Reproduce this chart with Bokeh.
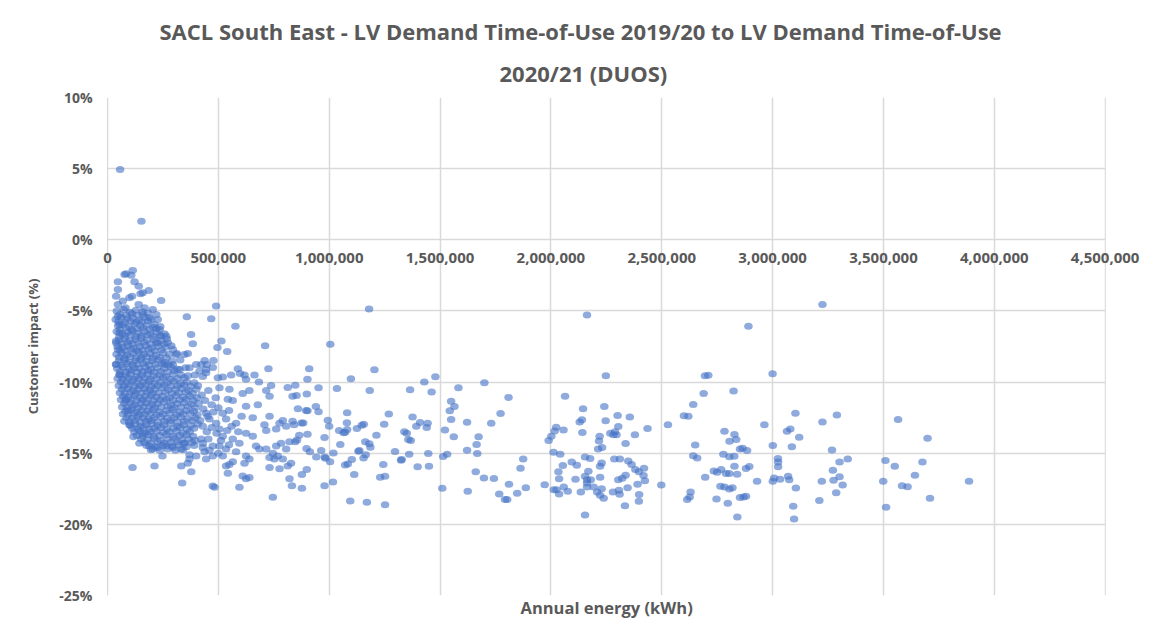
from bokeh.plotting import figure
from bokeh.models import ColumnDataSource, FixedTicker, Title, Range1d, BoxAnnotation
from bokeh.embed import file_html
from bokeh.resources import INLINE

# ---------------- text ----------------
title_line1 = "SACL South East - LV Demand Time-of-Use 2019/20 to LV Demand Time-of-Use"
title_line2 = "2020/21 (DUOS)"
x_title = "Annual energy (kWh)"
y_title = "Customer impact (%)"

# x values are in thousands of kWh
x_ticks_k = [0, 500, 1000, 1500, 2000, 2500, 3000, 3500, 4000, 4500]
x_tick_labels = ["0", "500,000", "1,000,000", "1,500,000", "2,000,000", "2,500,000",
                 "3,000,000", "3,500,000", "4,000,000", "4,500,000"]
y_ticks = [10, 5, 0, -5, -10, -15, -20, -25]
y_tick_labels = ["10%", "5%", "0%", "-5%", "-10%", "-15%", "-20%", "-25%"]

# ---------------- data: (annual energy in '000 kWh, customer impact %) ----------------
outliers_top = [(57, 4.94), (153, 1.31)]

cluster_edge = [
    (84, -2.39), (114, -2.16), (107, -2.49), (77, -2.44), (47, -2.95), (122, -2.95), (141, -3.26),
    (159, -3.73), (186, -3.56), (149, -3.8), (47, -3.5), (39, -3.96), (47, -4.55), (69, -4.31),
    (99, -4.08), (111, -3.96), (81, -4.78), (141, -4.55), (167, -4.78), (204, -4.9), (242, -4.27),
    (220, -5.25), (47, -5.37), (54, -5.95), (189, -5.48), (212, -5.95), (227, -5.6), (358, -5.41),
    (235, -6.3), (242, -6.77), (265, -6.77), (272, -7.24), (377, -6.65), (385, -7.31), (295, -7.71),
    (347, -8.06), (362, -8.0), (310, -8.06), (220, -7.24), (54, -6.54), (39, -7.12), (47, -7.71),
    (39, -8.76), (54, -9.47), (257, -8.76), (295, -8.76), (325, -9.11), (370, -9.0), (400, -8.76),
    (415, -9.23), (445, -9.11),
    (84, -11.2), (92, -12.0), (99, -13.0), (117, -13.85), (144, -14.3), (159, -13.6), (189, -14.5),
    (204, -14.7), (227, -14.6), (265, -14.5), (295, -14.6), (332, -14.7), (347, -14.3), (370, -15.1),
    (400, -15.2), (430, -14.6), (362, -15.7), (370, -15.4),
    (113, -16.0), (212, -15.9), (248, -15.2), (333, -15.9), (337, -17.1), (378, -16.3),
]

cluster_core = [
    (42, -5.0), (73, -4.9), (102, -5.1), (128, -4.95), (158, -5.05), (183, -5.15),
    (37, -5.6), (63, -5.45), (88, -5.55), (114, -5.5), (143, -5.65), (168, -5.45), (197, -5.6),
    (48, -6.05), (68, -5.95), (97, -6.1), (122, -5.9), (148, -6.05), (177, -6.0), (206, -6.15), (238, -6.1),
    (42, -6.45), (66, -6.6), (92, -6.5), (113, -6.4), (138, -6.55), (167, -6.45), (193, -6.6), (222, -6.5), (257, -6.6),
    (52, -7.05), (77, -6.95), (101, -7.1), (127, -7.0), (152, -6.9), (178, -7.05), (211, -7.0), (243, -7.1), (268, -6.95),
    (46, -7.5), (71, -7.55), (93, -7.45), (118, -7.6), (146, -7.5), (172, -7.45), (199, -7.6), (228, -7.5), (262, -7.55), (288, -7.45),
    (41, -8.05), (64, -7.95), (88, -8.1), (117, -8.0), (141, -7.9), (164, -8.05), (192, -8.0), (218, -8.1), (251, -7.95), (279, -8.05), (313, -8.0),
    (52, -8.5), (76, -8.45), (99, -8.6), (126, -8.5), (149, -8.4), (176, -8.55), (202, -8.5), (231, -8.45), (258, -8.6), (292, -8.5), (328, -8.45),
    (44, -9.05), (71, -8.95), (96, -9.1), (121, -9.0), (144, -9.05), (171, -8.95), (196, -9.1), (224, -9.0), (256, -9.05), (287, -8.95), (316, -9.1), (352, -9.0),
    (56, -9.5), (81, -9.55), (104, -9.45), (131, -9.6), (154, -9.5), (181, -9.45), (206, -9.55), (236, -9.5), (264, -9.6), (296, -9.45), (331, -9.5), (363, -9.55), (394, -9.5),
    (61, -10.0), (86, -10.05), (109, -9.95), (136, -10.1), (161, -10.0), (186, -9.95), (211, -10.1), (239, -10.0), (271, -10.05), (299, -9.95), (329, -10.1), (358, -10.0), (391, -10.05),
    (66, -10.5), (91, -10.45), (116, -10.6), (139, -10.5), (166, -10.45), (191, -10.55), (214, -10.5), (246, -10.4), (274, -10.55), (306, -10.5), (336, -10.45), (366, -10.6), (401, -10.5),
    (71, -11.0), (94, -11.05), (121, -10.95), (146, -11.1), (169, -11.0), (196, -10.95), (221, -11.05), (249, -11.0), (281, -11.1), (309, -10.95), (341, -11.05), (371, -11.0), (404, -11.1),
    (76, -11.5), (101, -11.45), (124, -11.6), (151, -11.5), (174, -11.45), (201, -11.55), (226, -11.5), (254, -11.4), (286, -11.6), (314, -11.5), (346, -11.45), (379, -11.55), (411, -11.5),
    (81, -12.05), (106, -11.95), (131, -12.1), (154, -12.0), (181, -12.05), (206, -11.95), (234, -12.1), (266, -12.0), (294, -11.95), (326, -12.1), (356, -12.0), (389, -12.05),
    (86, -12.5), (111, -12.55), (136, -12.45), (161, -12.5), (186, -12.6), (209, -12.5), (241, -12.45), (269, -12.55), (301, -12.5), (331, -12.45), (361, -12.6), (396, -12.5),
    (103, -13.05), (126, -12.95), (149, -13.1), (176, -13.0), (199, -12.95), (226, -13.05), (256, -13.0), (284, -12.9), (316, -13.1), (344, -13.0), (376, -13.05), (407, -12.95),
    (121, -13.5), (146, -13.45), (171, -13.6), (194, -13.5), (221, -13.45), (251, -13.55), (279, -13.5), (311, -13.45), (339, -13.6), (371, -13.5),
    (152, -14.0), (181, -14.05), (211, -13.95), (239, -14.1), (271, -14.0), (302, -13.95), (336, -14.05), (366, -14.0), (396, -14.1),
    (176, -14.45), (216, -14.55), (249, -14.45), (291, -14.5), (321, -14.4), (356, -14.55), (391, -14.45),
]

cluster_core_b = [
    (55, -5.25), (85, -5.3), (110, -5.2), (135, -5.3), (160, -5.25),
    (50, -5.75), (78, -5.8), (104, -5.7), (130, -5.8), (155, -5.75), (183, -5.7),
    (57, -6.3), (83, -6.2), (108, -6.3), (133, -6.25), (160, -6.2), (190, -6.3), (220, -6.25),
    (53, -6.8), (79, -6.75), (104, -6.7), (127, -6.8), (153, -6.75), (180, -6.7), (207, -6.8), (237, -6.75),
    (40, -7.25), (64, -7.3), (89, -7.2), (113, -7.3), (139, -7.25), (164, -7.2), (194, -7.3), (226, -7.25), (256, -7.3),
    (57, -7.75), (82, -7.8), (106, -7.7), (132, -7.8), (158, -7.75), (185, -7.7), (213, -7.8), (244, -7.75),
    (53, -8.25), (77, -8.3), (102, -8.2), (129, -8.3), (153, -8.25), (178, -8.2), (205, -8.3), (236, -8.25), (266, -8.3),
    (39, -8.75), (63, -8.8), (88, -8.7), (113, -8.8), (137, -8.75), (162, -8.7), (188, -8.8), (216, -8.75), (245, -8.7), (275, -8.8),
    (57, -9.25), (83, -9.3), (108, -9.2), (133, -9.3), (158, -9.25), (183, -9.2), (210, -9.3), (240, -9.25), (271, -9.3), (302, -9.2),
    (46, -9.75), (69, -9.8), (93, -9.7), (118, -9.8), (142, -9.75), (167, -9.7), (193, -9.8), (222, -9.75), (251, -9.7), (283, -9.8), (316, -9.75), (347, -9.7),
    (51, -10.25), (74, -10.3), (98, -10.2), (123, -10.3), (148, -10.25), (173, -10.2), (198, -10.3), (226, -10.25), (256, -10.2), (286, -10.3), (316, -10.25), (346, -10.2), (376, -10.3), (408, -10.25),
    (56, -10.75), (79, -10.8), (103, -10.7), (128, -10.8), (153, -10.75), (178, -10.7), (203, -10.8), (231, -10.75), (261, -10.7), (291, -10.8), (321, -10.75), (353, -10.7), (384, -10.8),
    (61, -11.25), (83, -11.3), (108, -11.2), (133, -11.3), (158, -11.25), (183, -11.2), (208, -11.3), (236, -11.25), (266, -11.2), (296, -11.3), (326, -11.25), (356, -11.2), (388, -11.3),
    (66, -11.75), (89, -11.8), (113, -11.7), (138, -11.8), (163, -11.75), (188, -11.7), (214, -11.8), (241, -11.75), (271, -11.7), (301, -11.8), (331, -11.75), (363, -11.7), (396, -11.8),
    (70, -12.25), (94, -12.3), (118, -12.2), (143, -12.3), (168, -12.25), (193, -12.2), (221, -12.3), (251, -12.25), (281, -12.2), (311, -12.3), (341, -12.25), (373, -12.2), (406, -12.3),
    (76, -12.75), (98, -12.8), (123, -12.7), (148, -12.8), (173, -12.75), (198, -12.7), (226, -12.8), (256, -12.75), (286, -12.7), (316, -12.8), (346, -12.75), (381, -12.7),
    (112, -13.25), (137, -13.3), (162, -13.2), (187, -13.3), (212, -13.25), (241, -13.2), (268, -13.3), (298, -13.25), (328, -13.2), (358, -13.3), (391, -13.25),
    (133, -13.75), (158, -13.8), (183, -13.7), (208, -13.8), (236, -13.75), (266, -13.7), (296, -13.8), (326, -13.75), (356, -13.7), (386, -13.8),
    (166, -14.25), (196, -14.3), (226, -14.2), (256, -14.3), (286, -14.25), (316, -14.2), (346, -14.3), (381, -14.25),
    (196, -14.75), (236, -14.8), (271, -14.7), (306, -14.8), (341, -14.75),
]

band_400_830 = [
    (490, -4.66), (468, -5.55), (577, -6.07), (514, -7.12), (496, -7.57), (540, -7.85), (711, -7.45),
    (478, -8.48), (438, -8.48), (423, -8.76), (448, -8.76), (475, -8.97), (588, -9.07), (726, -9.07),
    (430, -9.6), (445, -9.35), (498, -9.7), (520, -9.65), (558, -9.5), (598, -9.4), (618, -9.5),
    (625, -9.8), (663, -9.5), (683, -10.0), (738, -10.24), (813, -10.38),
    (505, -10.4), (550, -10.5), (640, -10.6), (610, -10.8), (543, -11.2), (565, -11.3), (625, -11.7),
    (678, -11.6), (716, -10.6), (731, -11.0), (731, -12.4), (776, -12.9), (791, -12.7), (655, -12.5),
    (708, -13.0), (716, -13.4), (761, -13.3), (806, -13.1), (783, -14.3), (761, -14.5), (821, -14.2),
    (445, -12.2), (460, -12.6), (430, -13.1), (490, -12.9), (505, -13.3), (535, -12.6), (580, -12.9),
    (520, -13.8), (565, -14.0), (595, -14.3), (625, -13.6), (655, -13.8), (670, -14.5), (685, -14.7),
    (716, -14.7), (746, -15.0), (768, -15.2), (791, -15.4), (753, -15.4), (731, -15.3), (625, -15.2),
    (640, -15.4), (618, -15.7), (565, -15.6), (535, -15.9), (550, -15.8), (520, -15.2), (445, -15.4),
    (438, -14.9), (475, -15.2), (423, -14.0), (475, -14.5), (505, -14.5), (535, -14.7), (580, -14.9),
    (806, -14.7), (828, -15.7), (813, -15.9), (731, -16.0), (776, -16.1), (610, -16.6), (625, -16.8),
    (640, -16.7), (543, -16.4), (821, -16.8), (595, -17.4), (475, -17.3), (483, -17.4), (746, -18.1),
    (425, -10.9), (440, -11.3), (455, -10.6), (470, -11.6), (488, -11.1), (432, -11.9), (452, -12.4),
    (478, -12.1), (500, -11.8), (520, -12.2), (548, -12.0), (418, -12.7), (470, -13.2), (492, -13.6),
    (448, -13.5), (430, -14.3), (455, -14.0), (540, -13.4), (560, -13.1), (590, -13.5), (605, -12.4),
    (512, -14.1), (548, -14.4), (460, -14.8), (500, -15.0),
]

band_830_1950 = [
    (1180, -4.86), (1005, -7.35), (910, -9.06), (1204, -9.13), (902, -9.81), (1098, -9.77), (847, -10.23),
    (1429, -10.0), (1479, -9.62), (1700, -10.05), (952, -10.40), (1035, -10.45), (1183, -10.59),
    (1365, -10.54), (1462, -10.70), (1583, -10.40), (899, -10.84), (835, -10.99), (853, -10.94),
    (1809, -11.08), (1550, -11.34), (1565, -11.71), (940, -11.71), (859, -11.88), (896, -12.0),
    (902, -12.02), (952, -12.09), (1081, -12.16), (1269, -12.25), (1544, -12.02), (1773, -12.21),
    (1550, -12.63), (1376, -12.46), (835, -12.75), (842, -13.0), (875, -12.87), (883, -12.87),
    (994, -12.68), (1000, -13.1), (1080, -12.86), (1156, -12.96), (1147, -13.03), (1248, -12.96),
    (1410, -12.84), (1444, -12.89), (1440, -13.19), (1393, -13.1), (1622, -12.82), (1731, -12.89),
    (1045, -13.4), (1065, -13.57), (1072, -13.52), (1081, -13.33), (1125, -13.26), (1339, -13.5),
    (1350, -13.6), (1213, -13.73), (1522, -13.36), (1562, -13.85), (1674, -13.85), (902, -13.66),
    (865, -13.73), (847, -14.2), (855, -14.08), (979, -13.9), (1163, -14.2), (1181, -14.34),
    (1186, -14.58), (1357, -14.04), (1368, -14.1), (1665, -14.39), (1050, -14.39), (898, -14.67),
    (913, -14.9), (964, -14.81), (1019, -14.98), (1132, -14.86), (1136, -14.81), (1165, -15.1),
    (1155, -15.33), (1297, -14.88), (1361, -15.07), (1447, -15.02), (1514, -15.23), (1532, -15.07),
    (1622, -14.79), (1668, -15.02), (1324, -15.5), (1327, -15.45), (942, -15.26), (980, -15.26),
    (983, -15.35), (1004, -15.6), (1072, -15.82), (1084, -15.75), (1102, -15.45), (1244, -15.8),
    (1399, -15.96), (1450, -15.92), (1875, -15.4), (1863, -16.06), (899, -16.15), (877, -16.5),
    (1113, -16.5), (1230, -16.69), (1252, -16.62), (1661, -16.3), (1698, -16.74), (1743, -16.78),
    (832, -17.28), (877, -17.46), (979, -17.28), (1017, -17.02), (1510, -17.46), (1625, -17.68),
    (1767, -17.86), (1811, -17.18), (1793, -18.26), (1803, -18.26), (1848, -17.82), (1887, -17.42),
    (1095, -18.36), (1170, -18.45), (1252, -18.62),
]

band_1950_plus = [
    (2163, -5.28), (2891, -6.08), (3225, -4.55), (2248, -9.55), (2695, -9.55), (2710, -9.52), (3000, -9.41),
    (2064, -10.99), (2689, -10.8), (2824, -10.63), (2145, -11.88), (2241, -11.71), (2642, -11.57),
    (2130, -12.8), (2140, -12.64), (2301, -12.35), (2356, -12.46), (2247, -12.72), (2600, -12.36),
    (2620, -12.4), (2528, -13.0), (2963, -13.0), (3103, -12.2), (3225, -12.8), (2024, -13.17),
    (2017, -13.43), (2057, -13.36), (1990, -14.1), (2002, -13.8), (2142, -13.55), (2304, -13.12),
    (2268, -13.6), (2282, -13.7), (2296, -13.7), (2289, -13.5), (2220, -13.8), (2217, -14.15),
    (2231, -14.6), (2213, -14.7), (2379, -13.7), (2436, -13.26), (2337, -14.32), (2783, -13.45),
    (2828, -13.69), (2836, -14.04), (2806, -14.16), (3065, -13.45), (3080, -13.3), (3120, -13.87),
    (3001, -14.46), (3087, -14.55), (2651, -14.43), (2012, -14.93), (2042, -15.07), (2642, -15.17),
    (2660, -15.33), (2778, -15.07), (2805, -15.24), (2827, -15.21), (2853, -14.7), (2865, -14.65),
    (2885, -14.81), (2094, -15.61), (2117, -15.85), (2154, -15.26), (2177, -15.38), (2229, -15.68),
    (2222, -15.92), (2286, -15.4), (2311, -15.4), (2349, -15.54), (2364, -15.8), (2381, -16.15),
    (2397, -16.31), (2420, -16.06), (2418, -16.57), (2034, -16.3), (2037, -16.8), (2054, -15.87),
    (2111, -16.83), (2154, -16.62), (2169, -16.27), (2163, -16.86), (2180, -16.86), (2222, -16.69),
    (2304, -16.86), (2322, -16.76), (2337, -16.55), (2424, -16.93), (1972, -17.21), (2013, -17.56),
    (2025, -17.56), (2037, -17.87), (2058, -17.38), (2076, -17.68), (2135, -17.72), (2163, -17.37),
    (2163, -17.09), (2193, -17.37), (2209, -17.72), (2229, -17.49), (2222, -17.96), (2238, -18.17),
    (2280, -17.72), (2307, -17.6), (2310, -17.89), (2346, -17.42), (2391, -17.18), (2398, -17.91),
    (2397, -18.38), (2498, -17.23), (2630, -17.72), (2626, -18.08), (2615, -18.26), (2696, -16.69),
    (2735, -16.25), (2750, -16.34), (2768, -16.15), (2790, -16.43), (2805, -16.43), (2840, -16.48),
    (2828, -15.92), (2880, -16.08), (2895, -15.94), (2765, -17.32), (2783, -17.37), (2805, -17.51),
    (2819, -17.42), (2747, -18.22), (2798, -18.52), (2853, -18.12), (2869, -18.08), (2880, -18.03),
    (2841, -19.49), (2930, -16.97), (3001, -16.97), (3007, -16.74), (3034, -16.83), (3025, -15.62),
    (3024, -15.38), (3025, -15.96), (3070, -16.62), (3075, -16.86), (3105, -17.44), (3093, -18.73),
    (3097, -19.62), (3222, -16.97), (3211, -18.33), (2154, -19.34), (2334, -18.7),
    (3290, -12.32), (3566, -12.63), (3699, -13.94), (3268, -14.77), (3302, -15.61), (3339, -15.4),
    (3509, -15.52), (3551, -15.92), (3676, -15.61), (3272, -16.2), (3275, -16.9), (3302, -16.65),
    (3316, -17.23), (3287, -17.77), (3499, -16.97), (3584, -17.28), (3609, -17.35), (3642, -16.55),
    (3710, -18.17), (3512, -18.8), (3886, -16.97),
]

all_points = (outliers_top + cluster_edge + cluster_core + cluster_core_b +
              band_400_830 + band_830_1950 + band_1950_plus)
src = ColumnDataSource(data=dict(x=[pt[0] for pt in all_points], y=[pt[1] for pt in all_points]))

TEXT = "#595959"
FONT = "Open Sans"
GRID = "#d9d9d9"

# The frame reaches slightly past 0 and 4,500,000 so the tick labels drawn on the
# 0% line are not clipped; white underlay boxes hide the grid outside the data extent.
p = figure(width=1145, height=625, x_range=Range1d(-36, 4664), y_range=Range1d(-25, 10),
           output_backend="svg", toolbar_location=None,
           min_border_left=99, min_border_right=4, min_border_top=97, min_border_bottom=30)
p.outline_line_color = None
p.background_fill_color = "white"
p.border_fill_color = "white"

# grid
p.xgrid.ticker = FixedTicker(ticks=x_ticks_k)
p.ygrid.ticker = FixedTicker(ticks=y_ticks)
p.xgrid.grid_line_color = GRID
p.ygrid.grid_line_color = GRID
p.xgrid.grid_line_width = 1.5
p.ygrid.grid_line_width = 1.5
p.add_layout(BoxAnnotation(right=-3, fill_color="white", fill_alpha=1, line_color=None, level="underlay"))
p.add_layout(BoxAnnotation(left=4503, fill_color="white", fill_alpha=1, line_color=None, level="underlay"))

# y axis
p.yaxis.ticker = FixedTicker(ticks=y_ticks)
p.yaxis.major_label_overrides = {t: lab for t, lab in zip(y_ticks, y_tick_labels)}
p.yaxis.major_tick_out = 0
p.yaxis.major_tick_in = 0
p.yaxis.minor_tick_out = 0
p.yaxis.minor_tick_in = 0
p.yaxis.axis_line_color = None
p.yaxis.major_label_standoff = 7
p.yaxis.major_label_text_font = FONT
p.yaxis.major_label_text_font_size = "14px"
p.yaxis.major_label_text_font_style = "bold"
p.yaxis.major_label_text_color = TEXT
p.yaxis.axis_label = y_title
p.yaxis.axis_label_text_font = FONT
p.yaxis.axis_label_text_font_size = "13px"
p.yaxis.axis_label_text_font_style = "bold"
p.yaxis.axis_label_text_color = TEXT
p.yaxis.axis_label_standoff = 14

# x axis: tick labels sit on the 0% line, as in the original
xa = p.xaxis[0]
xa.ticker = FixedTicker(ticks=x_ticks_k)
xa.major_label_overrides = {t: lab for t, lab in zip(x_ticks_k, x_tick_labels)}
xa.fixed_location = 0
xa.major_tick_out = 0
xa.major_tick_in = 0
xa.minor_tick_out = 0
xa.minor_tick_in = 0
xa.axis_line_color = None
xa.major_label_standoff = 13
xa.major_label_text_font = FONT
xa.major_label_text_font_size = "15px"
xa.major_label_text_font_style = "bold"
xa.major_label_text_color = TEXT

# x axis title, below the plot area
p.add_layout(Title(text=x_title, align="left", offset=421, vertical_align="top", standoff=0,
                   text_font=FONT, text_font_size="16.5px", text_font_style="bold",
                   text_color=TEXT), "below")

p.ellipse("x", "y", source=src, width=8.5, height=7, width_units="screen", height_units="screen",
          fill_color="#4472C4", fill_alpha=0.6, line_color=None)

# two-line title
p.add_layout(Title(text=title_line2, align="left", offset=400, text_font=FONT,
                   text_font_size="22px", text_font_style="bold", text_color=TEXT,
                   standoff=20), "above")
p.add_layout(Title(text=title_line1, align="left", offset=60, text_font=FONT,
                   text_font_size="22px", text_font_style="bold", text_color=TEXT,
                   standoff=0), "above")

open("out.html", "w").write(file_html(p, INLINE))
